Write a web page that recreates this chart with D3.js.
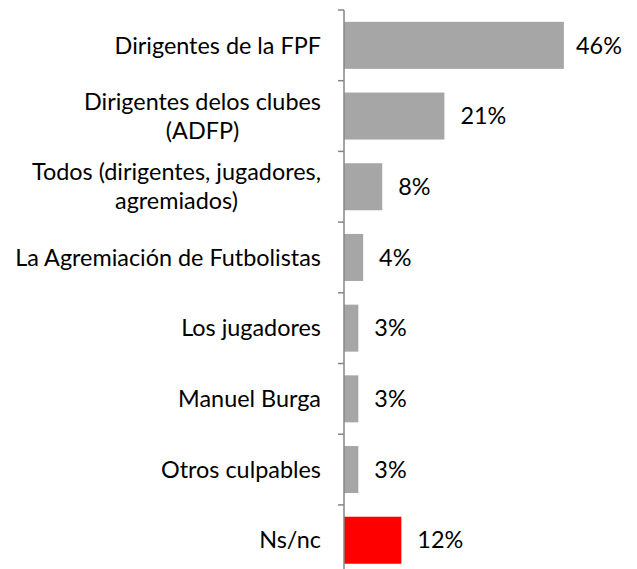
<!DOCTYPE html>
<html>
<head>
<meta charset="utf-8">
<script src="https://cdn.jsdelivr.net/npm/d3@7"></script>
<style>
  body { margin: 0; background: #fff; }
  svg text { font-family: Lato, "Open Sans", sans-serif; }
</style>
</head>
<body>
<svg class="chart" width="637" height="569"></svg>
<script>
// categories (each entry is the list of wrapped lines) and values in %
var categories = [
  ["Dirigentes de la FPF"],
  ["Dirigentes delos clubes", "(ADFP)"],
  ["Todos (dirigentes, jugadores,", "agremiados)"],
  ["La Agremiación de Futbolistas"],
  ["Los jugadores"],
  ["Manuel Burga"],
  ["Otros culpables"],
  ["Ns/nc"]
];
var values = [46, 21, 8, 4, 3, 3, 3, 12];
var highlight = ["Ns/nc"];

var svg = d3.select(".chart"),
    width = +svg.attr("width"),
    height = +svg.attr("height");

var x = d3.scaleLinear()
    .domain([0, 50])
    .range([344, 583]);

var y = d3.scaleBand()
    .domain(d3.range(categories.length))
    .range([10, 575.6])
    .paddingInner(0.335)
    .paddingOuter(0.1675);

var step = y.step();

// bars
svg.append("g").selectAll("rect")
    .data(values)
  .enter().append("rect")
    .attr("x", x(0))
    .attr("y", function(d, i) { return y(i); })
    .attr("width", function(d) { return x(d) - x(0); })
    .attr("height", y.bandwidth())
    .attr("fill", function(d, i) {
      return highlight.indexOf(categories[i][0]) >= 0 ? "#ff0000" : "#a6a6a6";
    });

// axis line + ticks between categories
var axis = svg.append("g").attr("stroke", "#868686").attr("stroke-width", 1.5);
axis.append("line")
    .attr("x1", x(0)).attr("x2", x(0))
    .attr("y1", 10).attr("y2", height);
axis.selectAll(".tick")
    .data(d3.range(categories.length + 1))
  .enter().append("line")
    .attr("x1", x(0) - 6).attr("x2", x(0))
    .attr("y1", function(i) { return 10 + i * step; })
    .attr("y2", function(i) { return 10 + i * step; });

// category labels
var labels = svg.append("g").selectAll("text")
    .data(categories)
  .enter().append("text")
    .attr("font-size", 23.4)
    .attr("fill", "#000")
    .attr("text-anchor", "middle")
    .attr("transform", function(d, i) {
      return "translate(0," + (y(i) + y.bandwidth() / 2) + ")";
    });

labels.each(function(lines) {
  var t = d3.select(this);
  var n = lines.length;
  lines.forEach(function(line, j) {
    t.append("tspan")
      .attr("y", (j - (n - 1) / 2) * 29)
      .attr("dy", "0.35em")
      .text(line);
  });
});

// right-align each wrapped block at x = 321, with lines centred on each other
labels.each(function() {
  var t = d3.select(this);
  var w = 0;
  t.selectAll("tspan").each(function() { w = Math.max(w, this.getComputedTextLength()); });
  t.selectAll("tspan").attr("x", 321 - w / 2);
});

// value labels
svg.append("g").selectAll("text")
    .data(values)
  .enter().append("text")
    .attr("font-size", 23.4)
    .attr("fill", "#000")
    .attr("x", function(d) { return Math.min(x(d) + 16, 576); })
    .attr("y", function(d, i) { return y(i) + y.bandwidth() / 2; })
    .attr("dy", "0.35em")
    .text(function(d) { return d + "%"; });
</script>
</body>
</html>
